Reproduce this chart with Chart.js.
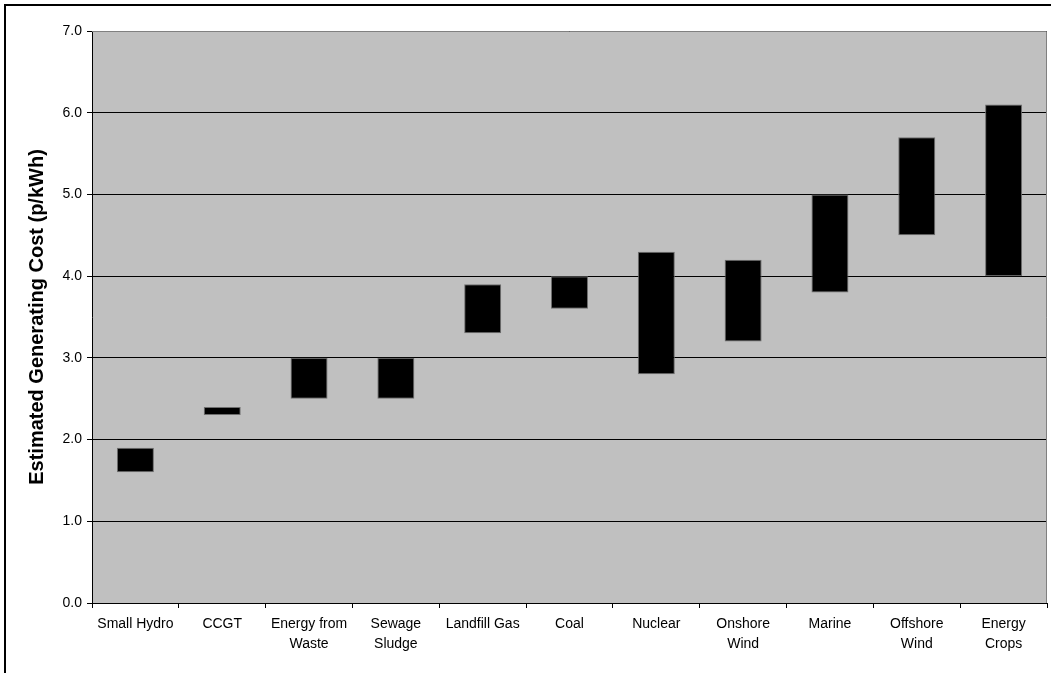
<!DOCTYPE html>
<html>
<head>
<meta charset="utf-8">
<script src="https://cdn.jsdelivr.net/npm/chart.js@4/dist/chart.umd.min.js"></script>
<style>
  html, body { margin: 0; padding: 0; background: #ffffff; }
  #wrap { position: relative; width: 1051px; height: 673px; }
</style>
</head>
<body>
<div id="wrap"><canvas id="chart"></canvas></div>
<script>
// Generating technologies, cheapest to most expensive
const categories = [
  ['Small Hydro'], ['CCGT'], ['Energy from', 'Waste'], ['Sewage', 'Sludge'],
  ['Landfill Gas'], ['Coal'], ['Nuclear'], ['Onshore', 'Wind'],
  ['Marine'], ['Offshore', 'Wind'], ['Energy', 'Crops']
];
// Low and high ends of the estimated cost range (p/kWh)
const costLow  = [1.6, 2.3, 2.5, 2.5, 3.3, 3.6, 2.8, 3.2, 3.8, 4.5, 4.0];
const costHigh = [1.9, 2.4, 3.0, 3.0, 3.9, 4.0, 4.3, 4.2, 5.0, 5.7, 6.1];
const yTicks = [0, 1, 2, 3, 4, 5, 6, 7];

const ranges = costLow.map((lo, i) => [lo, costHigh[i]]);

// Grey plot background, grey top/right frame and the outer black frame
const plotFrame = {
  id: 'plotFrame',
  beforeDraw(chart) {
    const { ctx, chartArea: a } = chart;
    ctx.save();
    ctx.fillStyle = '#c0c0c0';
    ctx.fillRect(a.left, a.top, a.right - a.left, a.bottom - a.top);
    ctx.restore();
  },
  afterDraw(chart) {
    const { ctx, chartArea: a } = chart;
    ctx.save();
    ctx.strokeStyle = '#808080';
    ctx.lineWidth = 1;
    ctx.beginPath();
    ctx.moveTo(a.left, a.top + 0.5);
    ctx.lineTo(a.right - 0.5, a.top + 0.5);
    ctx.lineTo(a.right - 0.5, a.bottom);
    ctx.stroke();
    ctx.strokeStyle = '#000000';
    ctx.lineWidth = 2;
    ctx.strokeRect(5, 5, 1200, 800);
    ctx.restore();
  }
};

Chart.defaults.font.family = '"Liberation Sans", Arial, sans-serif';
Chart.defaults.color = '#000000';

new Chart(document.getElementById('chart'), {
  type: 'bar',
  data: {
    labels: categories,
    datasets: [{
      data: ranges,
      backgroundColor: '#000000',
      borderColor: '#6e6e6e',
      borderWidth: 1,
      borderSkipped: false,
      barPercentage: 0.426,
      categoryPercentage: 1.0
    }]
  },
  options: {
    responsive: true,
    maintainAspectRatio: false,
    animation: false,
    layout: { padding: { left: 0, top: 31, right: 4, bottom: 0 } },
    plugins: { legend: { display: false }, tooltip: { enabled: false } },
    scales: {
      x: {
        offset: true,
        grid: { offset: true, drawOnChartArea: false, drawTicks: true, tickLength: 5, color: '#000000' },
        border: { color: '#000000', width: 1 },
        ticks: { font: { size: 14, lineHeight: 1.43 }, padding: 6, maxRotation: 0, autoSkip: false },
        afterFit(scale) { scale.height = 70; }
      },
      y: {
        min: yTicks[0],
        max: yTicks[yTicks.length - 1],
        afterBuildTicks(scale) { scale.ticks = yTicks.map(v => ({ value: v })); },
        grid: { color: '#000000', tickLength: 5, lineWidth: 1 },
        border: { color: '#000000', width: 1 },
        ticks: {
          font: { size: 14 },
          padding: 5,
          callback: v => Number(v).toFixed(1)
        },
        title: {
          display: true,
          text: 'Estimated Generating Cost (p/kWh)',
          font: { size: 20, weight: 'bold' },
          padding: { top: 25, bottom: 0 }
        },
        afterFit(scale) { scale.width = 92; }
      }
    }
  },
  plugins: [plotFrame]
});
</script>
</body>
</html>
